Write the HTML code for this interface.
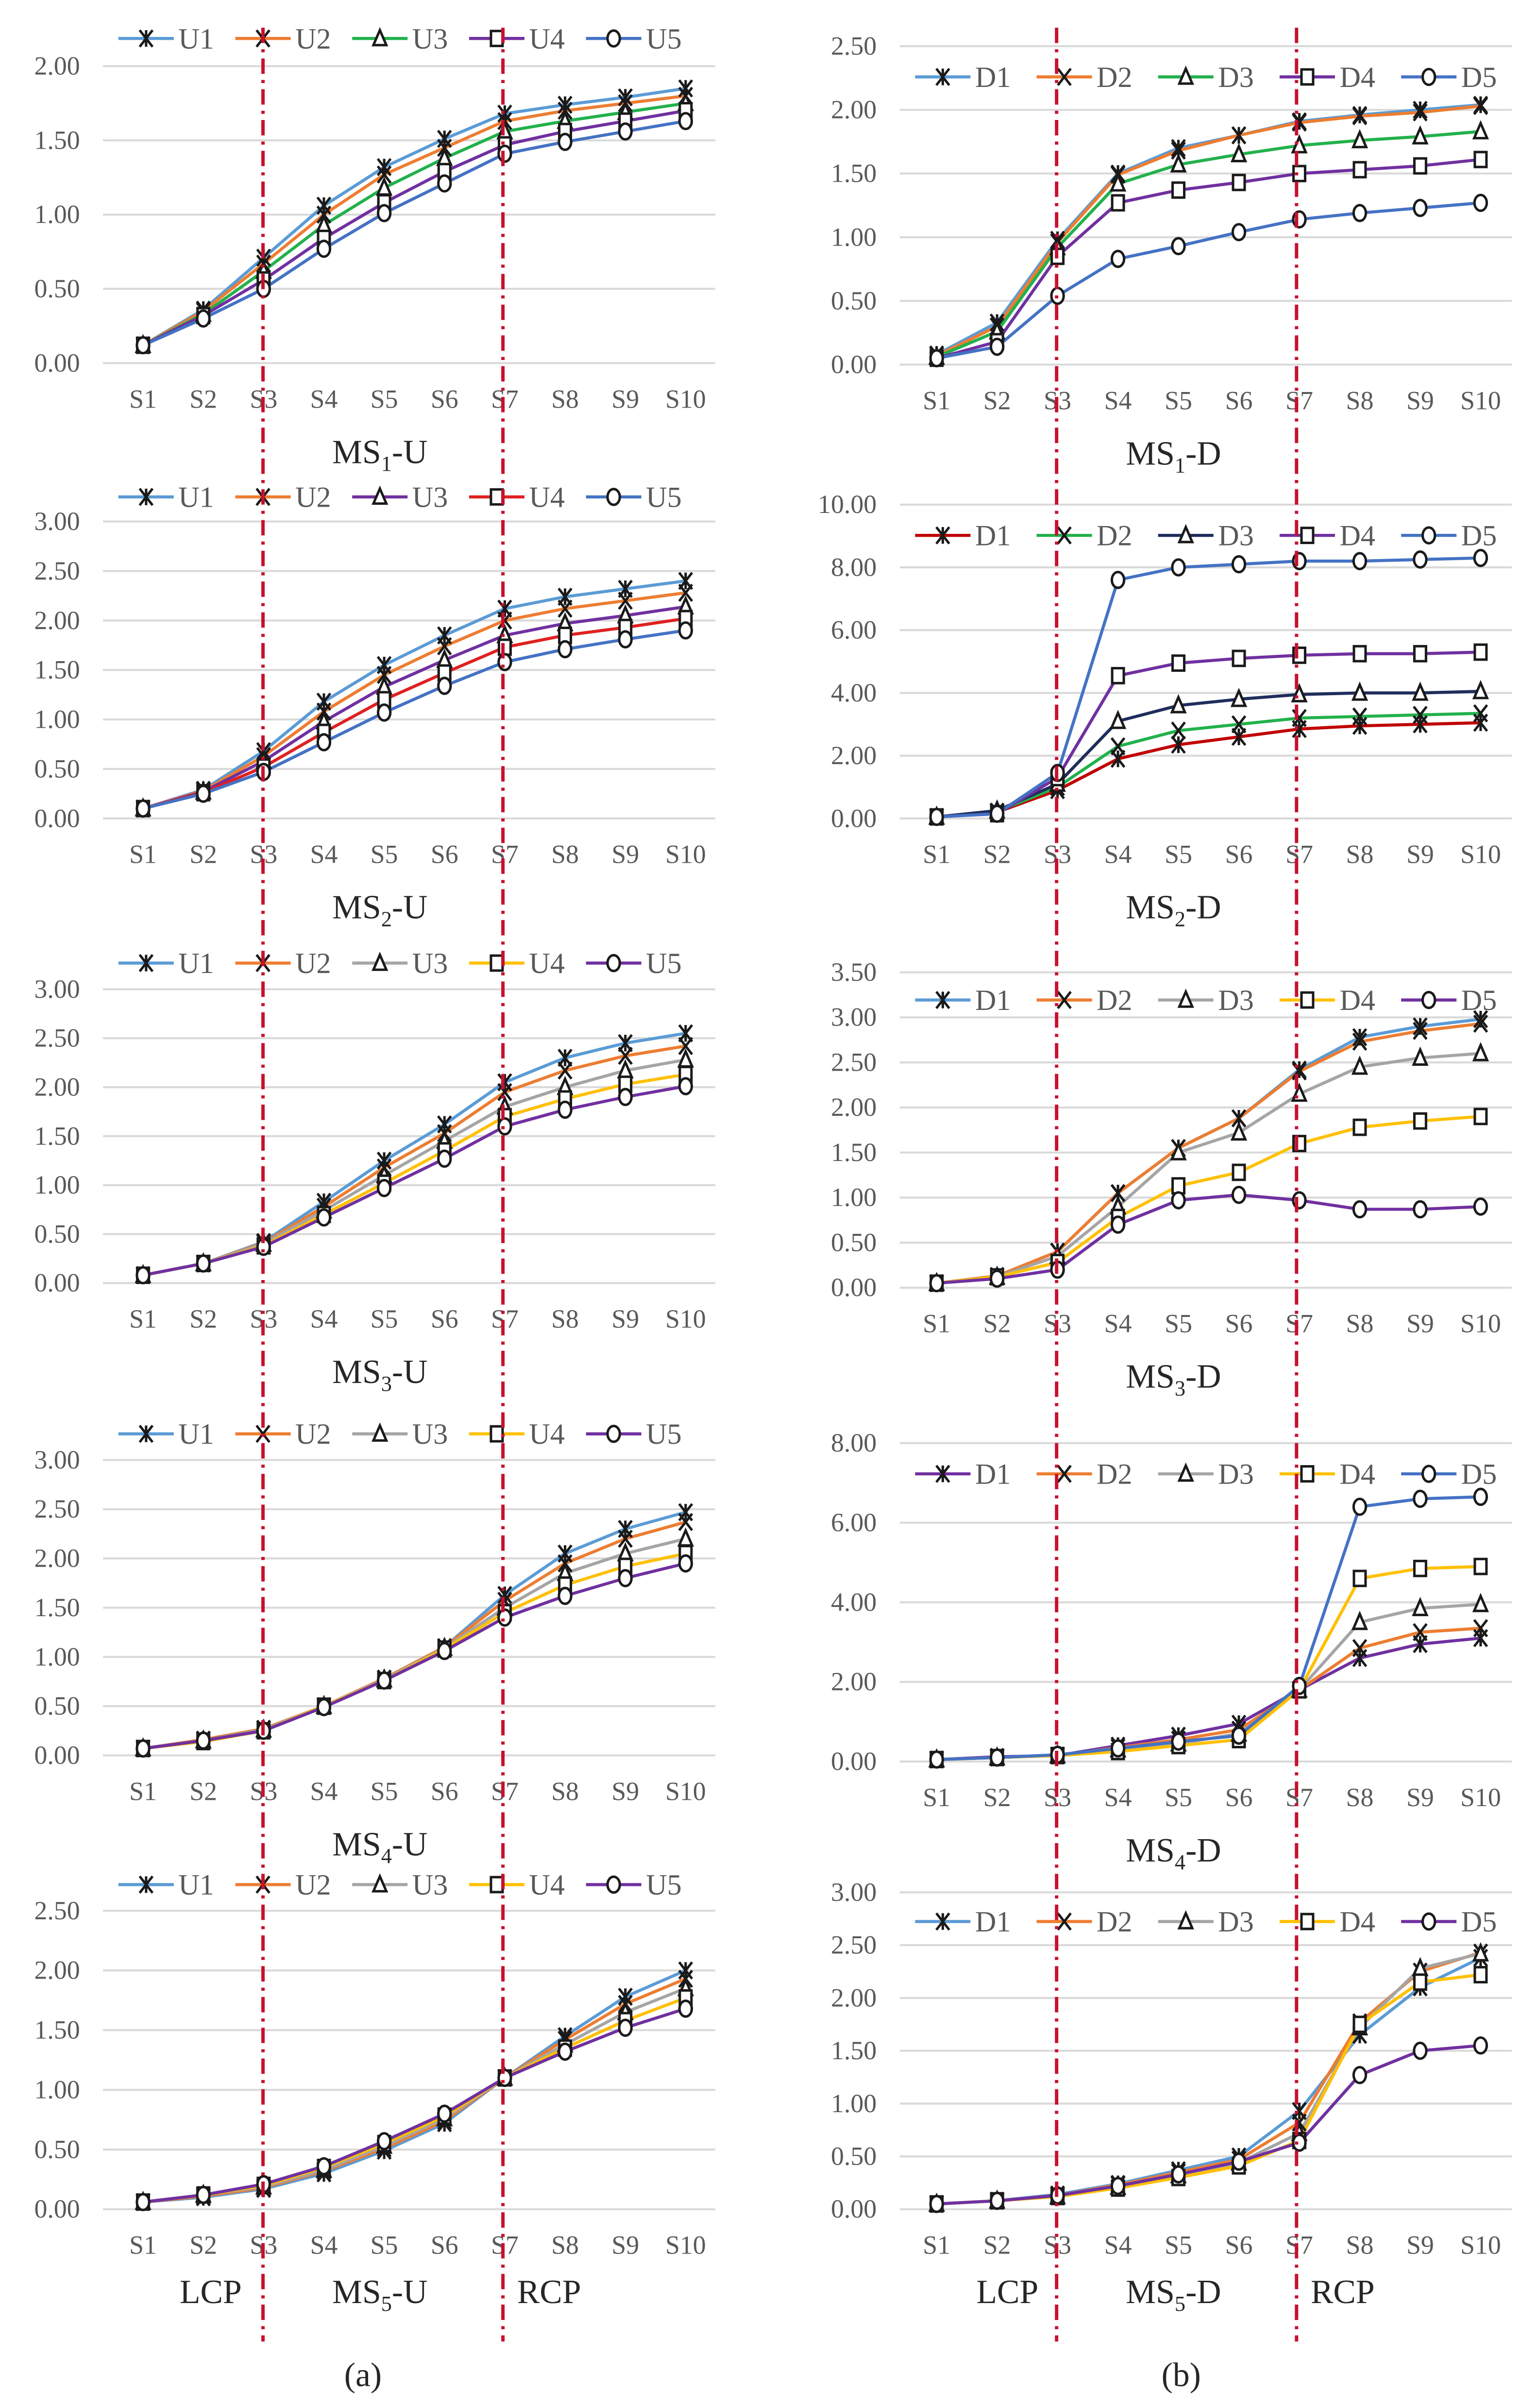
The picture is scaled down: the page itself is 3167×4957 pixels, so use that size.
<!DOCTYPE html>
<html><head><meta charset="utf-8"><title>MS charts</title>
<style>
html,body{margin:0;padding:0;background:#fff;}
svg{display:block;}
text{font-family:"Liberation Serif",serif;}
</style></head>
<body>
<svg id="fig" xmlns="http://www.w3.org/2000/svg" width="3167" height="4957" viewBox="0 0 1000 1565.2" preserveAspectRatio="none"></svg>
<script>
const categories = ["S1","S2","S3","S4","S5","S6","S7","S8","S9","S10"];

const ms1U = [
 [.12,.36,.71,1.06,1.32,1.51,1.68,1.74,1.79,1.85],
 [.12,.35,.67,1.00,1.27,1.45,1.63,1.70,1.75,1.80],
 [.12,.33,.62,.93,1.18,1.38,1.56,1.63,1.69,1.75],
 [.12,.32,.56,.84,1.08,1.29,1.47,1.56,1.63,1.70],
 [.12,.30,.50,.77,1.01,1.21,1.41,1.49,1.56,1.63]];
const ms1D = [
 [.08,.33,.98,1.50,1.70,1.80,1.91,1.96,2.00,2.04],
 [.07,.30,.96,1.49,1.68,1.80,1.90,1.95,1.98,2.03],
 [.06,.26,.92,1.42,1.57,1.65,1.72,1.76,1.79,1.83],
 [.05,.18,.85,1.27,1.37,1.43,1.50,1.53,1.56,1.61],
 [.05,.14,.54,.83,.93,1.04,1.14,1.19,1.23,1.27]];
const ms2U = [
 [.10,.29,.68,1.18,1.55,1.85,2.12,2.24,2.32,2.40],
 [.10,.28,.63,1.08,1.45,1.74,2.00,2.12,2.20,2.28],
 [.10,.27,.58,.98,1.33,1.60,1.85,1.97,2.05,2.14],
 [.10,.26,.52,.87,1.20,1.47,1.73,1.85,1.93,2.02],
 [.10,.25,.47,.77,1.07,1.34,1.58,1.71,1.81,1.90]];
const ms2D = [
 [.05,.20,.90,1.90,2.35,2.60,2.85,2.95,3.00,3.05],
 [.05,.22,1.00,2.30,2.80,3.00,3.20,3.25,3.30,3.35],
 [.05,.25,1.10,3.10,3.60,3.80,3.95,4.00,4.00,4.05],
 [.05,.15,1.30,4.55,4.95,5.10,5.20,5.25,5.25,5.30],
 [.05,.15,1.45,7.60,8.00,8.10,8.20,8.20,8.25,8.30]];
const ms3U = [
 [.08,.20,.42,.83,1.25,1.62,2.05,2.30,2.45,2.55],
 [.08,.20,.41,.78,1.18,1.53,1.95,2.17,2.32,2.42],
 [.08,.20,.40,.74,1.10,1.45,1.80,2.00,2.17,2.28],
 [.08,.20,.38,.70,1.02,1.35,1.70,1.88,2.03,2.13],
 [.08,.20,.37,.67,.97,1.27,1.60,1.77,1.90,2.01]];
const ms3D = [
 [.05,.13,.40,1.05,1.55,1.88,2.42,2.78,2.90,2.98],
 [.05,.13,.40,1.05,1.55,1.88,2.40,2.73,2.85,2.93],
 [.05,.12,.35,.90,1.50,1.72,2.15,2.45,2.55,2.60],
 [.05,.12,.28,.78,1.13,1.28,1.60,1.78,1.85,1.90],
 [.05,.10,.20,.70,.97,1.03,.97,.87,.87,.90]];
const ms4U = [
 [.07,.16,.27,.50,.78,1.10,1.63,2.05,2.30,2.47],
 [.07,.16,.27,.50,.78,1.10,1.57,1.95,2.20,2.37],
 [.07,.15,.26,.50,.77,1.09,1.50,1.85,2.05,2.20],
 [.07,.14,.25,.50,.76,1.08,1.45,1.73,1.92,2.05],
 [.07,.15,.25,.49,.76,1.06,1.40,1.62,1.80,1.95]];
const ms4D = [
 [.05,.12,.15,.40,.65,.95,1.80,2.60,2.95,3.10],
 [.05,.10,.15,.35,.55,.80,1.80,2.85,3.25,3.35],
 [.05,.10,.15,.30,.45,.70,1.80,3.50,3.85,3.95],
 [.05,.10,.15,.25,.40,.55,1.80,4.60,4.85,4.90],
 [.05,.10,.17,.33,.50,.65,1.90,6.40,6.60,6.65]];
const ms5U = [
 [.06,.10,.17,.30,.49,.72,1.10,1.45,1.78,2.00],
 [.06,.11,.18,.32,.51,.74,1.10,1.42,1.72,1.93],
 [.06,.12,.19,.33,.53,.76,1.10,1.38,1.65,1.85],
 [.06,.12,.20,.35,.55,.78,1.10,1.35,1.58,1.77],
 [.06,.12,.21,.36,.57,.80,1.10,1.32,1.52,1.68]];
const ms5D = [
 [.05,.08,.14,.24,.37,.50,.93,1.65,2.10,2.38],
 [.05,.08,.13,.23,.35,.47,.82,1.77,2.25,2.43],
 [.05,.08,.12,.21,.32,.44,.72,1.72,2.28,2.42],
 [.05,.08,.12,.20,.30,.41,.65,1.75,2.15,2.22],
 [.05,.08,.13,.22,.33,.45,.63,1.27,1.50,1.55]];

const uNames = ["U1","U2","U3","U4","U5"];
const dNames = ["D1","D2","D3","D4","D5"];
const axisMaxes = [2,2.5,3,10,3,3.5,3,8,2.5,3];
const axisSteps = [0.5,0.5,0.5,2,0.5,0.5,0.5,2,0.5,0.5];

const NS = "http://www.w3.org/2000/svg";
const svg = document.getElementById("fig");
function mk(tag, attrs, parent){
  const e = document.createElementNS(NS, tag);
  for (const k in attrs) e.setAttribute(k, attrs[k]);
  (parent||svg).appendChild(e);
  return e;
}
const C1=["#5B9BD5","#ED7D31","#22B14C","#7030A0","#4472C4"];
const C2L=["#5B9BD5","#ED7D31","#7030A0","#E02020","#4472C4"];
const C2R=["#C00000","#22B14C","#1F2D5C","#7030A0","#4472C4"];
const C3=["#5B9BD5","#ED7D31","#A5A5A5","#FFC000","#7030A0"];
const C4R=["#7030A0","#ED7D31","#A5A5A5","#FFC000","#4472C4"];

const panels = [
 {id:"ms1-u",data:ms1U,names:uNames,col:C1,side:0,y0:236,yT:43,leg:25,sub:"1",suf:"-U"},
 {id:"ms1-d",data:ms1D,names:dNames,col:C1,side:1,y0:237,yT:30,leg:50,sub:"1",suf:"-D"},
 {id:"ms2-u",data:ms2U,names:uNames,col:C2L,side:0,y0:532,yT:339,leg:323,sub:"2",suf:"-U"},
 {id:"ms2-d",data:ms2D,names:dNames,col:C2R,side:1,y0:532,yT:328,leg:348,sub:"2",suf:"-D"},
 {id:"ms3-u",data:ms3U,names:uNames,col:C3,side:0,y0:834,yT:643,leg:626,sub:"3",suf:"-U"},
 {id:"ms3-d",data:ms3D,names:dNames,col:C3,side:1,y0:837,yT:632,leg:650,sub:"3",suf:"-D"},
 {id:"ms4-u",data:ms4U,names:uNames,col:C3,side:0,y0:1141,yT:949,leg:932,sub:"4",suf:"-U"},
 {id:"ms4-d",data:ms4D,names:dNames,col:C4R,side:1,y0:1145,yT:938,leg:958,sub:"4",suf:"-D"},
 {id:"ms5-u",data:ms5U,names:uNames,col:C3,side:0,y0:1436,yT:1242,leg:1225,sub:"5",suf:"-U"},
 {id:"ms5-d",data:ms5D,names:dNames,col:C3,side:1,y0:1436,yT:1230,leg:1249,sub:"5",suf:"-D"}
];

function marker(g, type, cx, cy){
  const st = {stroke:"#1a1a1a","stroke-width":1.6,fill:"#fff"};
  const rx=4.2, ry=5.4;
  let e;
  if(type===0){
    e = mk("path",{d:`M${cx-rx},${cy-ry}L${cx+rx},${cy+ry}M${cx+rx},${cy-ry}L${cx-rx},${cy+ry}M${cx},${cy-ry}L${cx},${cy+ry}`,stroke:"#1a1a1a","stroke-width":1.6,fill:"none"},g);
  } else if(type===1){
    e = mk("path",{d:`M${cx-rx},${cy-ry}L${cx+rx},${cy+ry}M${cx+rx},${cy-ry}L${cx-rx},${cy+ry}`,stroke:"#1a1a1a","stroke-width":1.6,fill:"none"},g);
  } else if(type===2){
    e = mk("path",Object.assign({d:`M${cx},${cy-ry}L${cx+rx},${cy+ry*0.8}L${cx-rx},${cy+ry*0.8}Z`},st),g);
  } else if(type===3){
    e = mk("rect",Object.assign({x:cx-rx*0.9,y:cy-ry*0.9,width:rx*1.8,height:ry*1.8},st),g);
  } else {
    e = mk("ellipse",Object.assign({cx:cx,cy:cy,rx:rx*0.95,ry:ry*0.95},st),g);
  }
  return e;
}

panels.forEach((p,pi)=>{
  const g = mk("g",{});
  
  
  const left = p.side===0;
  const gx0 = left?67:585, gx1 = left?465:983;
  const cx0 = left?93:609, cdx = left?39.2:39.3;
  const max = axisMaxes[pi], step = axisSteps[pi];
  const xs = i => cx0 + i*cdx;
  const ys = v => p.y0 - (v/max)*(p.y0-p.yT);
  // gridlines & y ticks
  const n = Math.round(max/step);
  for(let k=0;k<=n;k++){
    const v=k*step, y=ys(v);
    const gl = mk("line",{x1:gx0,x2:gx1,y1:y,y2:y,stroke:"#d9d9d9","stroke-width":1.3},g);
    
    
    const t = mk("text",{x:left?52:570,y:y+5.5,"text-anchor":"end","font-size":17,fill:"#595959"},g);
    t.textContent = v.toFixed(2);
    
    
  }
  // x labels
  categories.forEach((c,i)=>{
    const t = mk("text",{x:xs(i),y:p.y0+29,"text-anchor":"middle","font-size":17,fill:"#595959"},g);
    t.textContent=c;
    
    
  });
  // series
  p.data.forEach((ser,si)=>{
    const sg = mk("g",{},g);
    
    
    const pts = ser.map((v,i)=>xs(i).toFixed(2)+","+ys(v).toFixed(2)).join(" ");
    const pl = mk("polyline",{points:pts,fill:"none",stroke:p.col[si],"stroke-width":2},sg);
    
    
  });
  p.data.forEach((ser,si)=>{
    ser.forEach((v,i)=>{
      const m = marker(g, si, xs(i), ys(v));
      
      
    });
  });
  // legend
  const lx0 = left?77:595, ldx = left?76:79;
  p.names.forEach((nm,si)=>{
    const lg = mk("g",{},g);
    
    
    const x = lx0 + si*ldx;
    mk("line",{x1:x,x2:x+36,y1:p.leg,y2:p.leg,stroke:p.col[si],"stroke-width":2},lg);
    marker(lg, si, x+18, p.leg);
    const t = mk("text",{x:x+39,y:p.leg+6.5,"font-size":19,fill:"#595959"},lg);
    t.textContent = nm;
  });
  // title
  const last = pi>=8;
  const tcx = left?247:763;
  const ty = last ? 1497 : p.y0+65;
  const tt = mk("text",{x:tcx,y:ty,"text-anchor":"middle","font-size":22,fill:"#262626"},g);
  
  
  tt.appendChild(document.createTextNode("MS"));
  const ts = mk("tspan",{"font-size":14,dy:5},tt); ts.textContent=p.sub;
  const ts2 = mk("tspan",{dy:-5},tt); ts2.textContent=p.suf;
  if(last){
    const l1 = mk("text",{x:left?137:655,y:1497,"text-anchor":"middle","font-size":22,fill:"#262626"},g);
    l1.textContent="LCP";
    
    
    const l2 = mk("text",{x:left?357:873,y:1497,"text-anchor":"middle","font-size":22,fill:"#262626"},g);
    l2.textContent="RCP";
    
    
  }
});

// red dash-dot divider lines
[171,327,687,843].forEach(x=>{
  const l = mk("line",{x1:x,x2:x,y1:18,y2:1522,stroke:"#C8102E","stroke-width":2.2,"stroke-dasharray":"10 4 2 4"});
  
  
});

// subfigure labels
[["(a)",236],["(b)",768]].forEach(([s,x])=>{
  const t = mk("text",{x:x,y:1551,"text-anchor":"middle","font-size":22,fill:"#262626"});
  t.textContent=s;
  
  
});
</script>
</body></html>
